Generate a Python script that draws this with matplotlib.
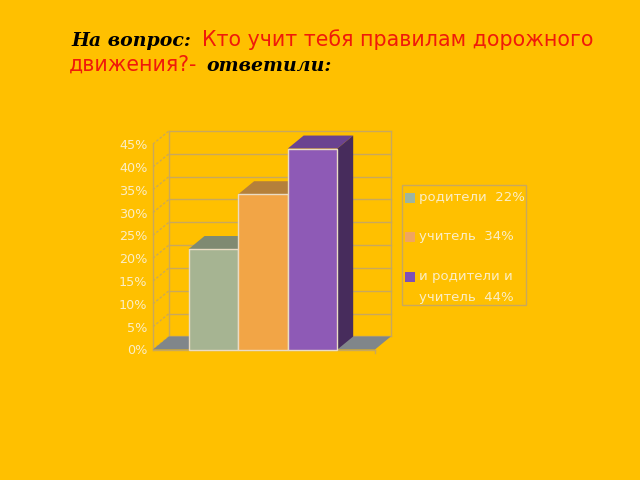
import matplotlib.pyplot as plt
from matplotlib.patches import Polygon, Rectangle

# Данные диаграммы
values = [22, 34, 44]
legend_labels = ["родители  22%", "учитель  34%", "и родители и\nучитель  44%"]
y_ticks = [0, 5, 10, 15, 20, 25, 30, 35, 40, 45]
y_labels = ["0%", "5%", "10%", "15%", "20%", "25%", "30%", "35%", "40%", "45%"]

front_colors = ["#a6b492", "#f2a546", "#8e5ab6"]
top_colors = ["#7f8a72", "#b5803a", "#6a4390"]
side_color = "#472c5c"
legend_colors = ["#9db5a0", "#f0a560", "#7e50b8"]

BG = "#ffc000"
GRID = "#c9a85c"
LABEL = "#fbeec6"
W, H = 640, 480

fig = plt.figure(figsize=(6.4, 4.8), dpi=100, facecolor=BG)


# Перевод пикселей картинки в координаты фигуры
def fx(px):
    return px / W


def fy(py):
    return 1 - py / H


# Передняя плоскость диаграммы
ax = fig.add_axes([fx(153), fy(349.5), (375 - 153) / W, (349.5 - 144) / H])
ax.set_facecolor("none")
ax.set_xlim(-1.22, 3.26)
ax.set_ylim(0, 45)
for s in ax.spines.values():
    s.set_visible(False)
ax.set_xticks([])
ax.set_yticks(y_ticks)
ax.set_yticklabels(y_labels, color=LABEL, fontsize=9.2)
ax.tick_params(axis="y", length=0, pad=4)

x0, x1 = ax.get_xlim()
dx, dy = 0.32, 2.85  # глубина псевдо-3D

# Задняя стенка и сетка
for t in y_ticks:
    ax.plot([x0 + dx, x1 + dx], [t + dy, t + dy], color=GRID, lw=1, clip_on=False, zorder=1)
    ax.plot([x0, x0 + dx], [t, t + dy], color=GRID, lw=0.9, ls=(0, (2, 1.5)), clip_on=False, zorder=1)
ax.plot([x0, x0], [0, 45], color=GRID, lw=1, clip_on=False, zorder=1)
ax.plot([x0 + dx, x0 + dx], [dy, 45 + dy], color=GRID, lw=1, clip_on=False, zorder=1)
ax.plot([x1 + dx, x1 + dx], [dy, 45 + dy], color=GRID, lw=1, clip_on=False, zorder=1)
ax.plot([x0, x1], [0, 0], color=GRID, lw=1, clip_on=False, zorder=1)
ax.plot([x1, x1], [0, -0.7], color=GRID, lw=1, clip_on=False, zorder=1)

# Пол
ax.add_patch(Polygon([(x0, 0), (x0 + dx, dy), (x1 + dx, dy), (x1, 0)], closed=True,
                     facecolor="#80868a", edgecolor="none", clip_on=False, zorder=2))

# Столбцы с боковой и верхней гранью
xs = list(range(len(values)))
ax.bar(xs, values, width=1.0, color=front_colors, edgecolor="#eadcc4", linewidth=1, zorder=5, clip_on=False)
for i, v in zip(xs, values):
    left, right = i - 0.5, i + 0.5
    ax.add_patch(Polygon([(left, v), (left + dx, v + dy), (right + dx, v + dy), (right, v)], closed=True,
                         facecolor=top_colors[i], edgecolor="none", clip_on=False, zorder=3 + i * 0.1))
    ax.add_patch(Polygon([(right, 0), (right + dx, dy), (right + dx, v + dy), (right, v)], closed=True,
                         facecolor=side_color, edgecolor="none", clip_on=False, zorder=3 + i * 0.1))

# Легенда
fig.add_artist(Rectangle((fx(402), fy(305)), 124 / W, 120 / H, transform=fig.transFigure,
                         facecolor="none", edgecolor=GRID, lw=1))
legend_y = [198, 237, 277]
for label, c, py in zip(legend_labels, legend_colors, legend_y):
    fig.add_artist(Rectangle((fx(405), fy(py + 5)), 10 / W, 10 / H, transform=fig.transFigure,
                             facecolor=c, edgecolor="none"))
    fig.text(fx(419), fy(py - 7), label, color=LABEL, fontsize=9.5, va="top", ha="left", linespacing=1.85)

# Заголовок из нескольких кусков
serif = dict(family="DejaVu Serif", weight="bold", style="italic", color="black")
sans = dict(family="DejaVu Sans", color="#f01a0a")
fig.text(fx(71), fy(46), "На вопрос:", fontsize=13.6, **serif)
fig.text(fx(202), fy(46), "Кто учит тебя правилам дорожного", fontsize=14.8, **sans)
fig.text(fx(69), fy(71), "движения?-", fontsize=14.8, **sans)
fig.text(fx(206), fy(71), "ответили:", fontsize=13.6, **serif)

plt.savefig("out.png", dpi=100, facecolor=BG)
